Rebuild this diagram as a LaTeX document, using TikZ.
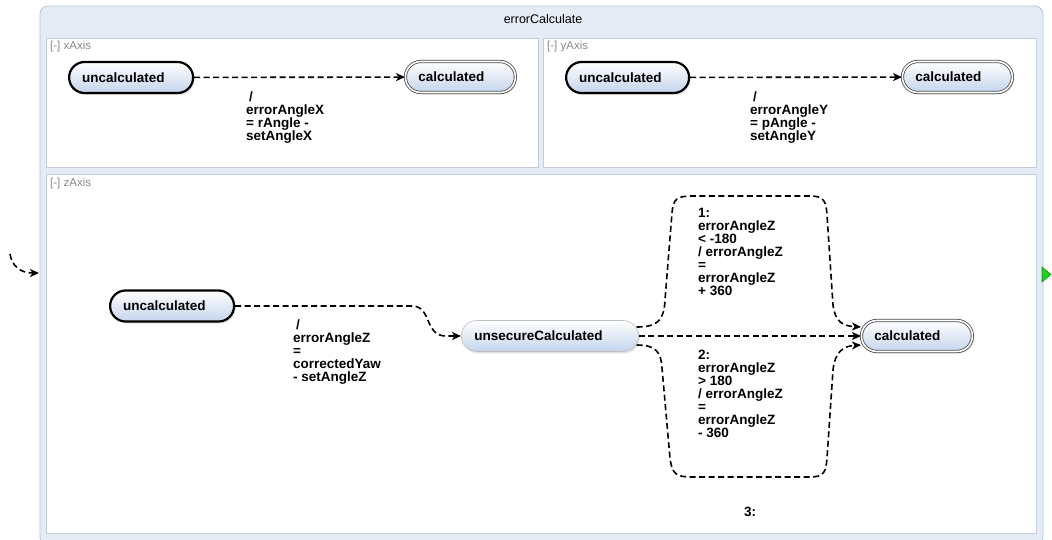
\documentclass[tikz,border=0pt]{standalone}
\usepackage{fontspec}
\setmainfont{Liberation Sans}
\usetikzlibrary{arrows.meta,shadows}

\definecolor{stateblue}{HTML}{C4D4EC}
\definecolor{framefill}{HTML}{E6ECF5}
\definecolor{frameline}{HTML}{B9C3D1}
\definecolor{regionline}{HTML}{C2CCDA}
\definecolor{regiontext}{HTML}{8A8A8A}
\definecolor{exitgreen}{HTML}{22D022}
\definecolor{exitline}{HTML}{138A13}

\newcommand\statefont{\fontsize{13.5}{13}\selectfont\bfseries}
\newcommand\lblfont{\fontsize{13.5}{13}\selectfont\bfseries}

\tikzset{
  x=1pt, y=-1pt,
  outerframe/.style={draw=frameline, fill=framefill, line width=0.8pt, rounded corners=8pt},
  region/.style={draw=regionline, fill=white, line width=0.8pt},
  regionname/.style={anchor=west, text=regiontext, font=\fontsize{11.5}{12}\selectfont, inner sep=0pt},
  statebox/.style={rectangle, rounded corners=15.5pt, minimum height=31pt,
    top color=white, bottom color=stateblue, font=\statefont, align=left,
    inner xsep=13pt, inner ysep=0pt, anchor=west,
    drop shadow={opacity=0.22, shadow xshift=1.5pt, shadow yshift=-2pt}},
  initstate/.style={statebox, draw=black, line width=2.2pt},
  finalstate/.style={statebox, draw=black!70, double=white, double distance=1.6pt, line width=0.8pt},
  plainstate/.style={statebox, draw=black!25, line width=0.6pt},
  trans/.style={draw=black, line width=1.6pt, dash pattern=on 6pt off 3.5pt,
    -{Stealth[length=9pt,width=8pt,inset=2.5pt]}},
  guard/.style={anchor=north west, align=left, font=\lblfont, inner sep=0pt},
}

\begin{document}
\begin{tikzpicture}
\useasboundingbox (0,0) rectangle (1052,539);

% enclosing composite state
\draw[outerframe] (40,6) rectangle (1043,545);
\node[font=\fontsize{12.5}{13}\selectfont] (title) at (543,19) {errorCalculate};

% orthogonal regions
\draw[region] (46,38) rectangle (538,167);
\draw[region] (543,38) rectangle (1036,167);
\draw[region] (46,174) rectangle (1036,533);
\node[regionname] (rx) at (50,47) {[-] xAxis};
\node[regionname] (ry) at (547,47) {[-] yAxis};
\node[regionname] (rz) at (50,184) {[-] zAxis};

% region xAxis
\node[initstate, text width=98pt] (xu) at (68,77.5) {uncalculated};
\node[finalstate, text width=84pt] (xc) at (405,77) {calculated};
\draw[trans] (xu) -- (xc);
\node[guard] (xl) at (246,92) {\hspace{3pt}/\\errorAngleX\\= rAngle -\\setAngleX};

% region yAxis
\node[initstate, text width=97pt] (yu) at (565,77.5) {uncalculated};
\node[finalstate, text width=84pt] (yc) at (902,77) {calculated};
\draw[trans] (yu) -- (yc);
\node[guard] (yl) at (750,92) {\hspace{3pt}/\\errorAngleY\\= pAngle -\\setAngleY};

% region zAxis
\node[initstate, text width=98pt] (zu) at (109,306) {uncalculated};
\node[plainstate, text width=151pt] (zs) at (461,336) {unsecureCalculated};
\node[finalstate, text width=85pt] (zc) at (861,336) {calculated};

\draw[trans] (zu.east) -- (412,306) .. controls (432,306) and (424,336) .. (446,336) -- (zs.west);
\node[guard] (zl) at (293,320) {\hspace{3pt}/\\errorAngleZ\\=\\correctedYaw\\- setAngleZ};

\draw[trans] ([xshift=-2pt,yshift=9pt]zs.east) .. controls (658,327) and (664,320) .. (665,300)
  -- (672,213) .. controls (673,199) and (677,196) .. (692,196) -- (810,196)
  .. controls (824,196) and (826,201) .. (827,215) -- (833,305)
  .. controls (835,322) and (843,326) .. ([yshift=9pt]zc.west);
\node[guard] (l1) at (698,208) {1:\\errorAngleZ\\< -180\\/ errorAngleZ\\=\\errorAngleZ\\+ 360};

\draw[trans] (zs) -- (zc);

\draw[trans] ([xshift=-2pt,yshift=-9pt]zs.east) .. controls (656,345) and (661,352) .. (662,368)
  -- (670,458) .. controls (672,474) and (676,477) .. (692,477) -- (810,477)
  .. controls (824,477) and (826,472) .. (827,458) -- (833,370)
  .. controls (835,352) and (843,346) .. ([yshift=-9pt]zc.west);
\node[guard] (l2) at (698,350) {2:\\errorAngleZ\\> 180\\/ errorAngleZ\\=\\errorAngleZ\\- 360};

\node[font=\lblfont, inner sep=0pt] (l3) at (750,512) {3:};

% entry into the composite state
\coordinate (entrystart) at (10,254);
\coordinate (entryend) at (39,273);
\draw[trans] (entrystart) .. controls (12,266) and (20,273) .. (entryend);

% exit marker
\draw[exitline, fill=exitgreen, line width=0.6pt] (1042,267) -- (1051,274.5) -- (1042,282) -- cycle;
\end{tikzpicture}
\end{document}
